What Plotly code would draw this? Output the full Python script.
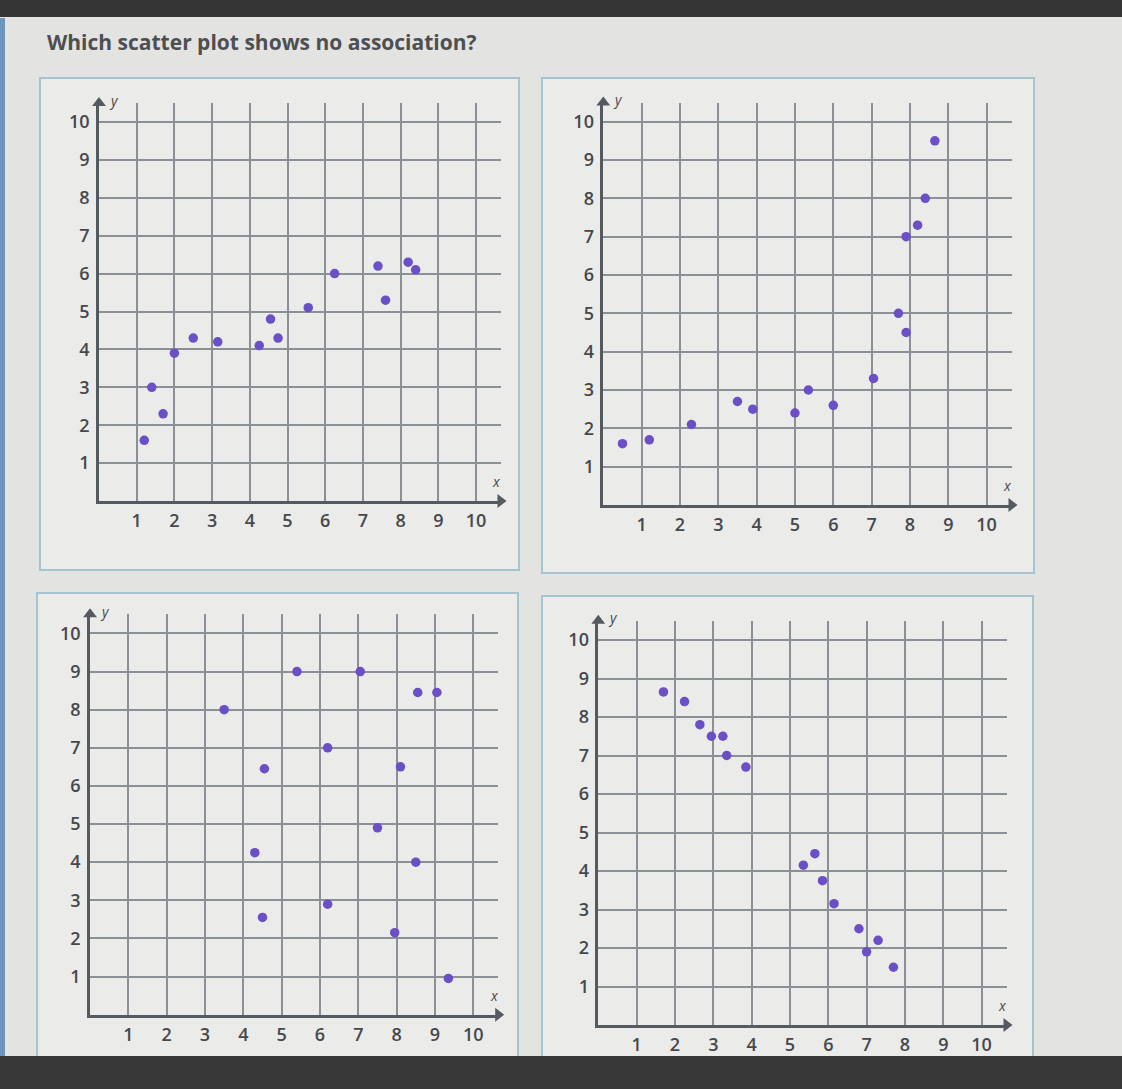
import plotly.graph_objects as go

W, H = 1122, 1089

title_text = "Which scatter plot shows no association?"
tick_vals = [1, 2, 3, 4, 5, 6, 7, 8, 9, 10]
tick_text = ["1", "2", "3", "4", "5", "6", "7", "8", "9", "10"]

# Panel A (top-left)
a_x = [1.2, 1.4, 1.7, 2.0, 2.5, 3.15, 4.25, 4.55, 4.75, 5.55, 6.25, 7.4, 7.6, 8.2, 8.4]
a_y = [1.6, 3.0, 2.3, 3.9, 4.3, 4.2, 4.1, 4.8, 4.3, 5.1, 6.0, 6.2, 5.3, 6.3, 6.1]
# Panel B (top-right)
b_x = [0.5, 1.2, 2.3, 3.5, 3.9, 5.0, 5.35, 6.0, 7.05, 7.7, 7.9, 7.9, 8.2, 8.4, 8.65]
b_y = [1.6, 1.7, 2.1, 2.7, 2.5, 2.4, 3.0, 2.6, 3.3, 5.0, 4.5, 7.0, 7.3, 8.0, 9.5]
# Panel C (bottom-left)
c_x = [3.5, 5.4, 7.05, 8.55, 9.05, 6.2, 4.55, 8.1, 7.5, 4.3, 8.5, 6.2, 4.5, 7.95, 9.35]
c_y = [8.0, 9.0, 9.0, 8.45, 8.45, 7.0, 6.45, 6.5, 4.9, 4.25, 4.0, 2.9, 2.55, 2.15, 0.95]
# Panel D (bottom-right)
d_x = [1.7, 2.25, 2.65, 2.95, 3.25, 3.35, 3.85, 5.35, 5.65, 5.85, 6.15, 6.8, 7.3, 7.0, 7.7]
d_y = [8.65, 8.4, 7.8, 7.5, 7.5, 7.0, 6.7, 4.15, 4.45, 3.75, 3.15, 2.5, 2.2, 1.9, 1.5]

panels = [(a_x, a_y), (b_x, b_y), (c_x, c_y), (d_x, d_y)]

# layout geometry (pixels): origin x, px per unit x, origin y, px per unit y
geom = [
    (99, 37.7, 501, 37.9),
    (603.3, 38.33, 505, 38.33),
    (90, 38.33, 1014.7, 38.13),
    (598.3, 38.33, 1025, 38.5),
]
XMAX, YMAX = 10.65, 10.5

# panel boxes in pixels: x0, y0, x1, y1
boxes = [(40, 78, 519, 570), (542, 78, 1034, 573), (37, 593, 518, 1070), (542, 596, 1033, 1070)]

DOT = "#6a4fc6"
GRID = "#8b8f96"
AXIS = "#555a60"
TXT = "#46484c"

fig = go.Figure()
shapes = []
annotations = []

# page decorations
shapes.append(dict(type="rect", xref="paper", yref="paper", x0=0, x1=1, y0=1 - 17 / H, y1=1,
                   fillcolor="#353535", line_width=0, layer="below"))
shapes.append(dict(type="rect", xref="paper", yref="paper", x0=0, x1=5 / W, y0=1 - 1056 / H, y1=1 - 18 / H,
                   fillcolor="#6f95bd", line_width=0, layer="below"))
for (bx0, by0, bx1, by1) in boxes:
    shapes.append(dict(type="rect", xref="paper", yref="paper",
                       x0=bx0 / W, x1=bx1 / W, y0=1 - by1 / H, y1=1 - by0 / H,
                       fillcolor="#ebebea", line=dict(color="#a6c4cf", width=2), layer="below"))

for i, ((xs, ys), (ox, ux, oy, uy)) in enumerate(zip(panels, geom)):
    n = "" if i == 0 else str(i + 1)
    xa = "xaxis" + n
    ya = "yaxis" + n
    xr = "x" + n
    yr = "y" + n
    xdom = [ox / W, (ox + XMAX * ux) / W]
    ydom = [1 - oy / H, 1 - (oy - YMAX * uy) / H]
    common = dict(showgrid=True, gridcolor=GRID, gridwidth=1.5, zeroline=False,
                  showline=True, linecolor=AXIS, linewidth=2.5, ticks="",
                  tickvals=tick_vals, ticktext=tick_text, fixedrange=True,
                  tickfont=dict(family="Open Sans, sans-serif", size=18, color=TXT, weight=600))
    fig.layout[xa] = dict(domain=xdom, range=[0, XMAX], anchor=yr, ticklabelstandoff=2, **common)
    fig.layout[ya] = dict(domain=ydom, range=[0, YMAX], anchor=xr, ticklabelstandoff=3, **common)

    fig.add_trace(go.Scatter(x=xs, y=ys, mode="markers", xaxis=xr, yaxis=yr,
                             marker=dict(size=9.5, color=DOT), showlegend=False, hoverinfo="skip"))
    # axis arrowheads
    fig.add_trace(go.Scatter(x=[XMAX, 0], y=[0, YMAX], mode="markers", xaxis=xr, yaxis=yr,
                             marker=dict(symbol=["triangle-right", "triangle-up"], size=12, color=AXIS),
                             cliponaxis=False, showlegend=False, hoverinfo="skip"))
    annotations.append(dict(text="<i>y</i>", xref=xr + " domain", yref=yr + " domain", x=0, y=1,
                            xanchor="left", yanchor="middle", xshift=8, yshift=3, showarrow=False,
                            font=dict(family="Open Sans, sans-serif", size=14, color=TXT)))
    annotations.append(dict(text="<i>x</i>", xref=xr + " domain", yref=yr + " domain", x=1, y=0,
                            xanchor="center", yanchor="bottom", xshift=-4, yshift=8, showarrow=False,
                            font=dict(family="Open Sans, sans-serif", size=14, color=TXT)))

annotations.append(dict(text="<b>" + title_text + "</b>", xref="paper", yref="paper",
                        x=45 / W, y=1 - 42 / H, xanchor="left", yanchor="middle", showarrow=False,
                        font=dict(family="Open Sans, sans-serif", size=21, color="#4d4f52")))

shapes.append(dict(type="rect", xref="paper", yref="paper", x0=0, x1=1, y0=0, y1=1 - 1056 / H,
                   fillcolor="#383838", line_width=0, layer="above"))

fig.update_layout(width=W, height=H, margin=dict(l=0, r=0, t=0, b=0),
                  paper_bgcolor="#e3e3e1", plot_bgcolor="rgba(0,0,0,0)",
                  shapes=shapes, annotations=annotations, showlegend=False)

fig.write_html("out.html")
